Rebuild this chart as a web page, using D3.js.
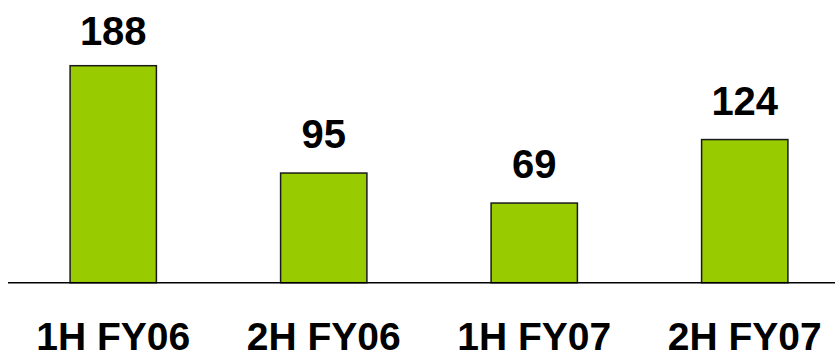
<!DOCTYPE html>
<html><head><meta charset="utf-8">
<script src="https://cdn.jsdelivr.net/npm/d3@7"></script>
<style>body{margin:0;background:#fff}svg{display:block}</style>
</head><body>
<svg id="c" width="835" height="359"></svg>
<script>
const categories = ["1H FY06", "2H FY06", "1H FY07", "2H FY07"];
const values = [188, 95, 69, 124];

const svg = d3.select("#c");
const baseY = 282.7;
const x = d3.scaleBand().domain(categories).range([8, 850]).paddingInner(0.59).paddingOuter(0.295);
const y = d3.scaleLinear().domain([0, 188]).range([baseY, 65.7]);

svg.selectAll("rect.bar").data(values).join("rect")
  .attr("class", "bar")
  .attr("x", (d, i) => x(categories[i]))
  .attr("y", d => y(d))
  .attr("width", x.bandwidth())
  .attr("height", d => baseY - y(d))
  .attr("fill", "#99CC00")
  .attr("stroke", "#1a1a1a")
  .attr("stroke-width", 1.5);

svg.append("line").attr("x1", 8).attr("x2", 835).attr("y1", baseY).attr("y2", baseY)
  .attr("stroke", "#000").attr("stroke-width", 1.6);

svg.selectAll("text.val").data(values).join("text")
  .attr("class", "val")
  .attr("x", (d, i) => x(categories[i]) + x.bandwidth() / 2)
  .attr("y", d => Math.max(y(d) - 25, 45))
  .attr("text-anchor", "middle")
  .attr("font-family", "Liberation Sans, Arial, sans-serif")
  .attr("font-weight", "bold").attr("font-size", 40)
  .text(d => d);

svg.selectAll("text.cat").data(categories).join("text")
  .attr("class", "cat")
  .attr("x", d => x(d) + x.bandwidth() / 2)
  .attr("y", 350)
  .attr("text-anchor", "middle")
  .attr("font-family", "Liberation Sans, Arial, sans-serif")
  .attr("font-weight", "bold").attr("font-size", 39)
  .text(d => d);
</script>
</body></html>
